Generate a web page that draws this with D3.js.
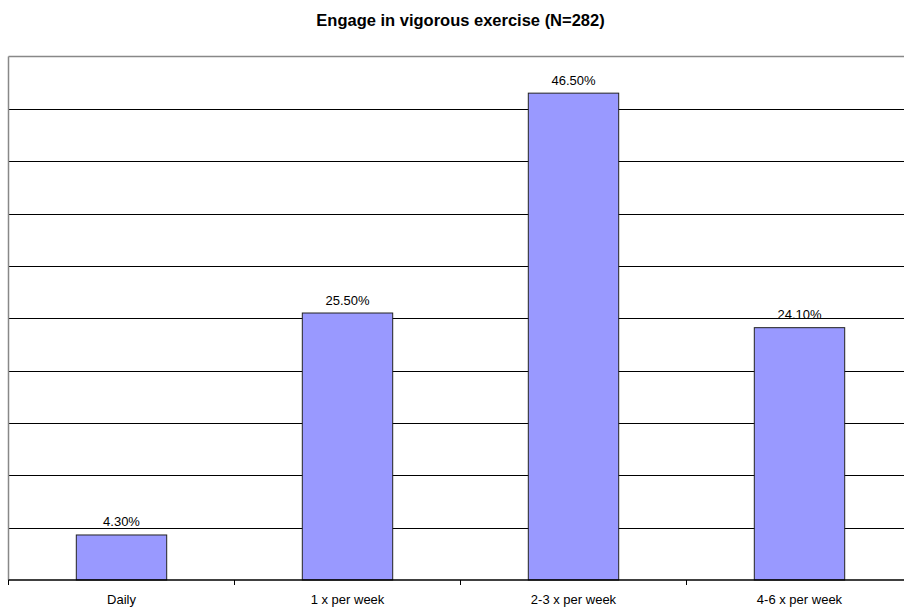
<!DOCTYPE html>
<html>
<head>
<meta charset="utf-8">
<script src="https://cdn.jsdelivr.net/npm/d3@7"></script>
<style>
  html, body { margin: 0; padding: 0; background: #fff; }
  svg { display: block; font-family: "Liberation Sans", Arial, sans-serif; }
</style>
</head>
<body>
<svg id="chart" width="904" height="609"></svg>
<script>
// Survey responses: frequency of vigorous exercise
const categories = ["Daily", "1 x per week", "2-3 x per week", "4-6 x per week"];
const values = [4.3, 25.5, 46.5, 24.1];
const gridTicks = [0, 5, 10, 15, 20, 25, 30, 35, 40, 45, 50];
const title = "Engage in vigorous exercise (N=282)";

const svg = d3.select("#chart");
const plot = { left: 8.5, right: 912.5, top: 56.5, bottom: 580 };

const x = d3.scaleBand()
  .domain(categories)
  .range([plot.left, plot.right])
  .paddingInner(0.6)
  .paddingOuter(0.3);

const y = d3.scaleLinear()
  .domain([0, 50])
  .range([plot.bottom, plot.top]);

// Title
svg.append("text")
  .attr("x", (plot.left + plot.right) / 2)
  .attr("y", 26)
  .attr("text-anchor", "middle")
  .attr("font-size", 16.5)
  .attr("font-weight", "bold")
  .attr("fill", "#000")
  .text(title);

// Horizontal gridlines
svg.append("g")
  .selectAll("line")
  .data(gridTicks.filter(d => d > 0 && d < 50))
  .join("line")
  .attr("x1", plot.left)
  .attr("x2", plot.right)
  .attr("y1", d => Math.round(y(d)) + 0.5)
  .attr("y2", d => Math.round(y(d)) + 0.5)
  .attr("stroke", "#000")
  .attr("stroke-width", 1);

// Plot frame: grey top and left edges
svg.append("line")
  .attr("x1", plot.left).attr("x2", plot.right)
  .attr("y1", plot.top).attr("y2", plot.top)
  .attr("stroke", "#888").attr("stroke-width", 1.5);
svg.append("line")
  .attr("x1", plot.left).attr("x2", plot.left)
  .attr("y1", plot.top).attr("y2", plot.bottom)
  .attr("stroke", "#888").attr("stroke-width", 1.5);

// Bars
svg.append("g")
  .selectAll("rect")
  .data(values)
  .join("rect")
  .attr("x", (d, i) => x(categories[i]))
  .attr("width", x.bandwidth())
  .attr("y", d => y(d))
  .attr("height", d => y(0) - y(d))
  .attr("fill", "#9999ff")
  .attr("stroke", "#222")
  .attr("stroke-width", 1);

// Value labels
svg.append("g")
  .selectAll("text")
  .data(values)
  .join("text")
  .attr("x", (d, i) => x(categories[i]) + x.bandwidth() / 2)
  .attr("y", d => y(d) - 8.5)
  .attr("text-anchor", "middle")
  .attr("font-size", 13)
  .attr("fill", "#000")
  .text(d => d.toFixed(2) + "%");

// Category axis with ticks between categories
const step = (plot.right - plot.left) / categories.length;
const boundaries = d3.range(categories.length + 1).map(i => plot.left + i * step);

svg.append("line")
  .attr("x1", plot.left).attr("x2", plot.right)
  .attr("y1", plot.bottom).attr("y2", plot.bottom)
  .attr("stroke", "#000").attr("stroke-width", 1.5);

svg.append("g")
  .selectAll("line")
  .data(boundaries)
  .join("line")
  .attr("x1", d => d).attr("x2", d => d)
  .attr("y1", plot.bottom).attr("y2", plot.bottom + 5)
  .attr("stroke", "#000").attr("stroke-width", 1);

svg.append("g")
  .selectAll("text")
  .data(categories)
  .join("text")
  .attr("x", d => x(d) + x.bandwidth() / 2)
  .attr("y", 604)
  .attr("text-anchor", "middle")
  .attr("font-size", 13)
  .attr("fill", "#000")
  .text(d => d);
</script>
</body>
</html>
